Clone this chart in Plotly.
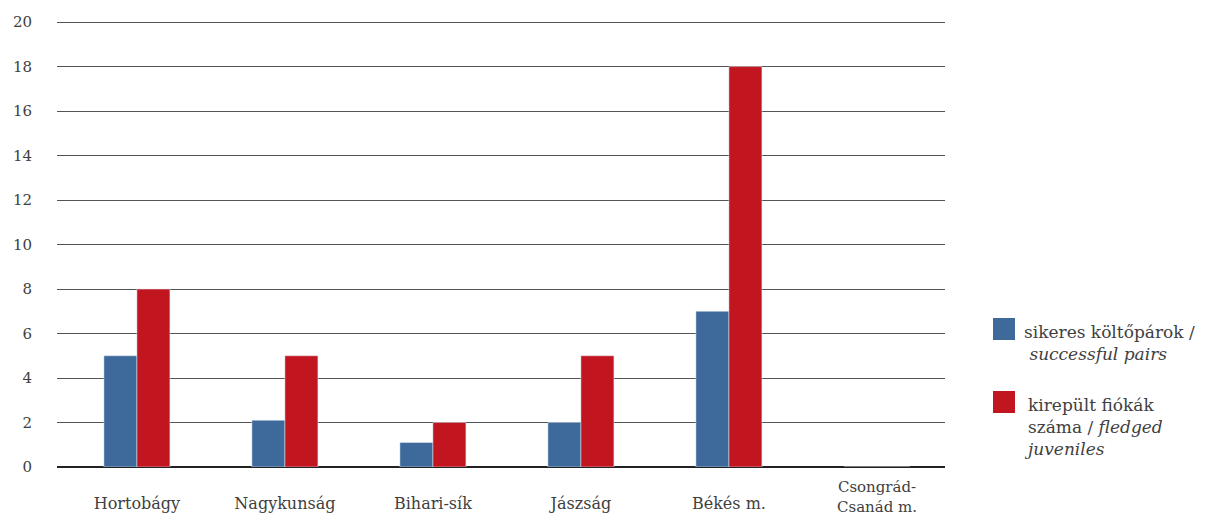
import plotly.graph_objects as go

regions = ["Hortobágy", "Nagykunság", "Bihari-sík", "Jászság", "Békés m.", "Csongrád-Csanád m."]
region_labels = ["Hortobágy", "Nagykunság", "Bihari-sík", "Jászság", "Békés m.", "Csongrád-<br>Csanád m."]
successful_pairs = [5, 2.1, 1.1, 2, 7, 0]
fledged_juveniles = [8, 5, 2, 5, 18, 0]
y_ticks = [0, 2, 4, 6, 8, 10, 12, 14, 16, 18, 20]

BLUE = "#3E6A9B"
RED = "#C1161F"
FONT = "DejaVu Serif"
TEXT = "#404040"

# plot area in pixels
L, R, T, B = 57, 260, 21, 53
W, H = 1205, 520
PW, PH = W - L - R, H - T - B


def px_x(x):
    return (x - L) / PW


def px_y(y):
    return (H - B - y) / PH


fig = go.Figure()
fig.add_trace(go.Bar(x=regions, y=successful_pairs, marker_color=BLUE, showlegend=False))
fig.add_trace(go.Bar(x=regions, y=fledged_juveniles, marker_color=RED, showlegend=False))

fig.update_layout(
    width=W, height=H,
    margin=dict(l=L, r=R, t=T, b=B),
    paper_bgcolor="white", plot_bgcolor="white",
    barmode="group", bargap=0.554, bargroupgap=0,
    font=dict(family=FONT, size=14, color=TEXT),
)
fig.update_yaxes(
    range=[0, 20.05], tickvals=y_ticks, showgrid=True, gridcolor="#555555", gridwidth=1,
    zeroline=True, zerolinecolor="#222222", zerolinewidth=2,
    ticklabelstandoff=24, tickfont=dict(size=15, color=TEXT), automargin=False,
)

# single-line names go on the axis; two-line names are centred below it as annotations
single = ["" if "<br>" in t else t for t in region_labels]
fig.update_xaxes(
    range=[-0.54, 5.46], showgrid=False, showline=False, ticks="", ticklabelstandoff=25,
    tickvals=regions, ticktext=single,
    tickfont=dict(size=16, color=TEXT), automargin=False,
)
for name, label in zip(regions, region_labels):
    if "<br>" in label:
        fig.add_annotation(xref="x", yref="paper", x=name, y=px_y(497),
                           xanchor="center", yanchor="middle", align="center",
                           text=label, showarrow=False,
                           font=dict(family=FONT, size=15, color=TEXT))

# Legend built from swatches and labels
legend_items = [
    (BLUE, 318, "sikeres költőpárok /<br>\u00a0<i>successful pairs</i>"),
    (RED, 391, "kirepült fiókák<br>száma / <i>fledged<br>juveniles</i>"),
]
for color, top, label in legend_items:
    fig.add_shape(type="rect", xref="paper", yref="paper",
                  x0=px_x(993), x1=px_x(1015), y0=px_y(top + 22), y1=px_y(top),
                  fillcolor=color, line_width=0)
    fig.add_annotation(xref="paper", yref="paper", x=px_x(1022), y=px_y(top + 2),
                       xanchor="left", yanchor="top", align="left",
                       text=label, showarrow=False,
                       font=dict(family=FONT, size=17, color=TEXT))

fig.write_html("out.html")
